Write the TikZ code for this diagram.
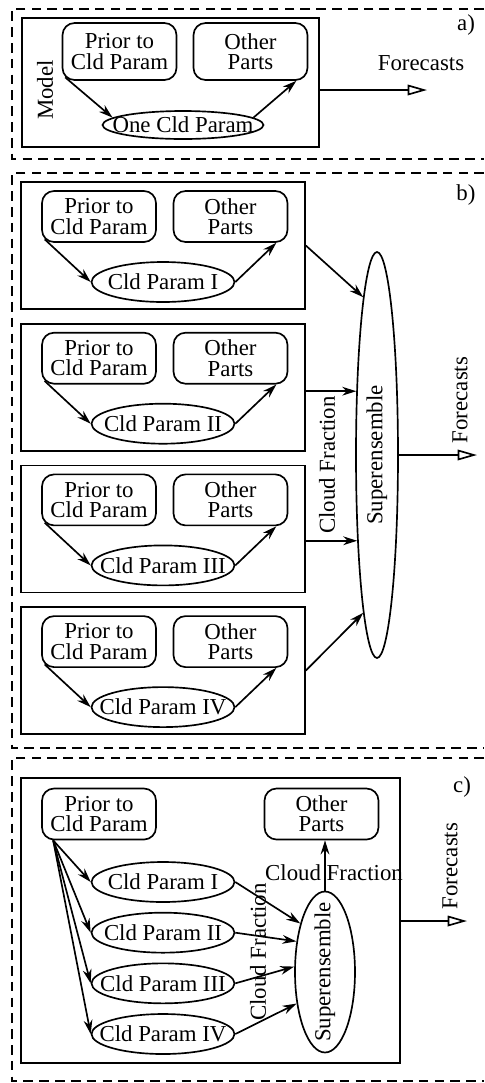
\documentclass[tikz,border=0pt]{standalone}
\usepackage{fontspec}
\setmainfont{Liberation Serif}
\usetikzlibrary{arrows.meta,shapes.geometric}

\begin{document}
\begin{tikzpicture}[x=0.02cm,y=-0.02cm,line width=0.95pt,
  every node/.style={font=\fontsize{13}{11.5}\selectfont,align=center,inner sep=1pt},
  part/.style={draw,rounded corners=0.24cm,minimum width=2.28cm,minimum height=1.02cm},
  param/.style={draw,ellipse,minimum width=2.86cm,minimum height=0.8cm,inner sep=0pt},
  frame/.style={line width=0.8pt,dash pattern=on 5.5pt off 3.5pt},
  feed/.style={-{Stealth[length=8pt,width=5pt]}},
  fore/.style={-{Triangle[open,length=11pt,width=6pt]}}]
\useasboundingbox (0,0) rectangle (484,1083);
% a) one cloud scheme
\draw[frame] (484,9) -| (12,159) -- (484,159);
\node[draw,minimum width=5.94cm,minimum height=2.58cm] (ma) at (170.5,82.5) {};
\node[rotate=90] (la) at (45,90) {Model};
\node[part,minimum height=1.14cm] (pa) at (119.5,51.5) {Prior to\\Cld Param};
\node[part,minimum height=1.14cm] (oa) at (250.5,51.5) {Other\\Parts};
\node[param,minimum width=3.22cm,minimum height=0.56cm,label=center:One Cld Param] (ca) at (183,125) {};
\draw[feed] ([shift={(3.5,-3.5)}]pa.south west)--(ca.174);\draw[feed] (ca.6)--([shift={(-12,0)}]oa.south east);
\coordinate (fa) at (427,90);
\draw[fore] (ma.east |- fa)--(fa);
\node (ta) at (421,63) {Forecasts};
\node (na) at (466,25) {a)};
% b) four schemes, one superensemble
\draw[frame] (484,173) -| (12,748) -- (484,748);
\node[draw,ellipse,minimum width=0.84cm,minimum height=8.12cm,inner sep=0pt,label={[rotate=90]center:Superensemble}] (sb) at (377,455) {};
\foreach \i/\rn in {1/I,2/II,3/III,4/IV}{
  \node[draw,minimum width=5.68cm,minimum height=2.54cm] (mb\i) at (163,{245.5+141.7*(\i-1)}) {};
  \node[part] (pb\i) at ([shift={(-64,-29)}]mb\i.center) {Prior to\\Cld Param};
  \node[part] (ob\i) at ([shift={(67.5,-29)}]mb\i.center) {Other\\Parts};
  \node[param,label=center:Cld Param \rn] (cb\i) at ([shift={(0,36.5)}]mb\i.center) {};
  \draw[feed] ([shift={(3.5,-3.5)}]pb\i.south west)--(cb\i.west);
  \draw[feed] (cb\i.east)--([shift={(-12,0)}]ob\i.south east);
}
\draw[feed] (mb1.east)--(sb.95);\draw[feed] (sb.108 -| mb2.east)--(sb.108);
\draw[feed] (sb.-103 -| mb3.east)--(sb.-103);\draw[feed] (mb4.east)--(sb.-95);
\coordinate (fb) at (477,455);
\draw[fore] (sb.east)--(fb);
\node[rotate=90] (tb) at (460,400) {Forecasts};
\node[rotate=90] (kb) at (327,465) {Cloud Fraction};
\node (nb) at (466,195) {b)};
% c) four schemes inside the model
\draw[frame] (484,758) -| (12,1081) -- (484,1081);
\node[draw,minimum width=7.58cm,minimum height=5.7cm] (mc) at (210.5,920.5) {};
\node[part] (pc) at (99,814) {Prior to\\Cld Param};
\node[part] (oc) at (321.5,814) {Other\\Parts};
\node[draw,ellipse,minimum width=1.2cm,minimum height=3.22cm,inner sep=0pt,label={[rotate=90]center:Superensemble}] (sc) at (325,972) {};
\foreach \i/\rn in {1/I,2/II,3/III,4/IV}{
  \node[param,label=center:Cld Param \rn] (cc\i) at (163,{882+50.67*(\i-1)}) {};
  \draw[feed] ([shift={(12,0)}]pc.south west)--(cc\i.west);
}
\draw[feed] (cc1.east)--(sc.117);\draw[feed] (cc2.east)--(sc.133);\draw[feed] (cc3.east)--(sc.170);\draw[feed] (cc4.east)--(sc.-132);
\draw[feed] (sc.north)--(sc.north |- oc.south);
\node (kc) at (334,873) {Cloud Fraction};
\node[rotate=90] (jc) at (258,952) {Cloud Fraction};
\coordinate (fc) at (467,921);
\draw[fore] (mc.east |- fc)--(fc);
\node[rotate=90] (tc) at (450,866) {Forecasts};
\node (nc) at (462,787) {c)};
\end{tikzpicture}
\end{document}
